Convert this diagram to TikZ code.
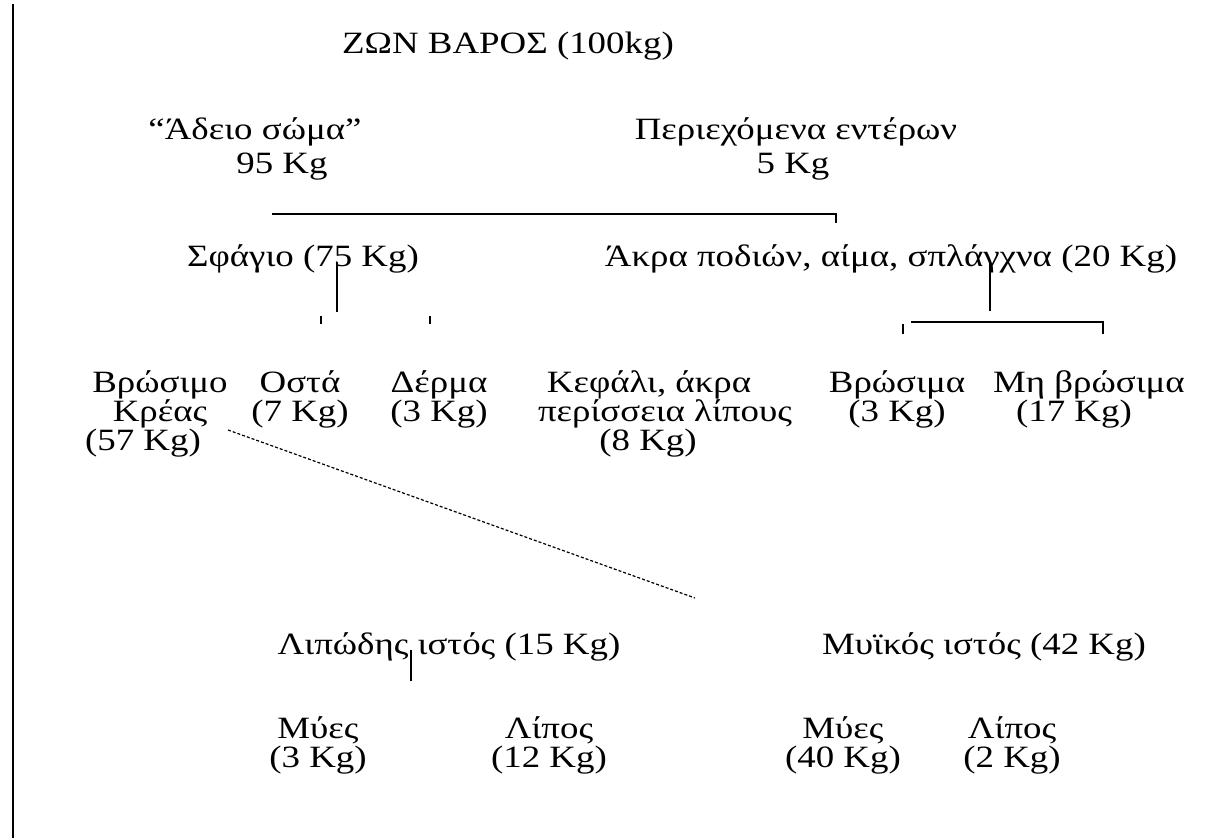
\documentclass[tikz,border=0pt]{standalone}
\usepackage{fontspec}
\setmainfont{Liberation Serif}[FakeStretch=1.19]
\begin{document}
\begin{tikzpicture}[x=0.5pt,y=-0.5pt,
  lbl/.style={inner sep=0pt, anchor=base, align=center, font=\fontsize{15.5pt}{14.5pt}\selectfont},
  conn/.style={line width=0.75pt},
  dots/.style={line width=0.6pt, dash pattern=on 1.5pt off 1pt}]
\useasboundingbox (0,0) rectangle (1220,838);
% left border
\coordinate (bt) at (13,4);
\coordinate (bb) at (13,838);
\draw[line width=1pt] (bt) -- (bb);
% texts (base anchor = baseline of the last line)
\node[lbl] (total) at (508,54) {ΖΩΝ ΒΑΡΟΣ (100kg)};
\node[lbl] (empty) at (255,140) {“Άδειο σώμα”};
\node[lbl] (empty2) at (282,174) {95 Kg};
\node[lbl] (gut) at (796,140) {Περιεχόμενα εντέρων};
\node[lbl] (gut2) at (793,174) {5 Kg};
\node[lbl] (carc) at (303,267) {Σφάγιο (75 Kg)};
\node[lbl] (offal) at (891,267) {Άκρα ποδιών, αίμα, σπλάγχνα (20 Kg)};
\node[lbl] (meat) at (160,451) {Βρώσιμο\\Κρέας\\(57 Kg)\hspace*{17pt}};
\node[lbl] (bone) at (300,422) {Οστά\\(7 Kg)};
\node[lbl] (skin) at (439,422) {Δέρμα\\(3 Kg)};
\node[lbl] (head) at (665,451) {Κεφάλι, άκρα\hspace*{16pt}\\περίσσεια λίπους\\(8 Kg)\hspace*{17pt}};
\node[lbl] (edib) at (897,422) {Βρώσιμα\\(3 Kg)};
\node[lbl] (nonedib) at (1089,422) {Μη βρώσιμα\\(17 Kg)\hspace*{15pt}};
\node[lbl] (fat) at (449,654) {Λιπώδης ιστός (15 Kg)};
\node[lbl] (musc) at (984,654) {Μυϊκός ιστός (42 Kg)};
\node[lbl] (fatm) at (318,767) {Μύες\\(3 Kg)};
\node[lbl] (fatf) at (549,767) {Λίπος\\(12 Kg)};
\node[lbl] (muscm) at (843,767) {Μύες\\(40 Kg)};
\node[lbl] (muscf) at (1012,767) {Λίπος\\(2 Kg)};
% top bracket
\coordinate (tb1) at (272,214);
\coordinate (tb2) at (836,214);
\coordinate (tb3) at (836,223);
\draw[conn] (tb1) -- (tb2) -- (tb3);
% carcass stem and ticks
\coordinate (cs1) at (337,262);
\coordinate (cs2) at (337,312);
\draw[conn] (cs1) -- (cs2);
\coordinate (ct1) at (321,316);
\coordinate (ct2) at (321,324);
\coordinate (ct3) at (430,316);
\coordinate (ct4) at (430,324);
\draw[conn] (ct1) -- (ct2);
\draw[conn] (ct3) -- (ct4);
% offal stem and bracket
\coordinate (os1) at (990,262);
\coordinate (os2) at (990,311);
\draw[conn] (os1) -- (os2);
\coordinate (ob1) at (911,322);
\coordinate (ob2) at (1103,322);
\coordinate (ob3) at (1103,334);
\draw[conn] (ob1) -- (ob2) -- (ob3);
\coordinate (ot1) at (903,324);
\coordinate (ot2) at (903,334);
\draw[conn] (ot1) -- (ot2);
% dashed link from edible meat to its breakdown
\coordinate (d1) at (228,430);
\coordinate (d2) at (695,598);
\draw[dots] (d1) -- (d2);
% fat stem
\coordinate (fs1) at (411,650);
\coordinate (fs2) at (411,681);
\draw[conn] (fs1) -- (fs2);
\end{tikzpicture}
\end{document}
